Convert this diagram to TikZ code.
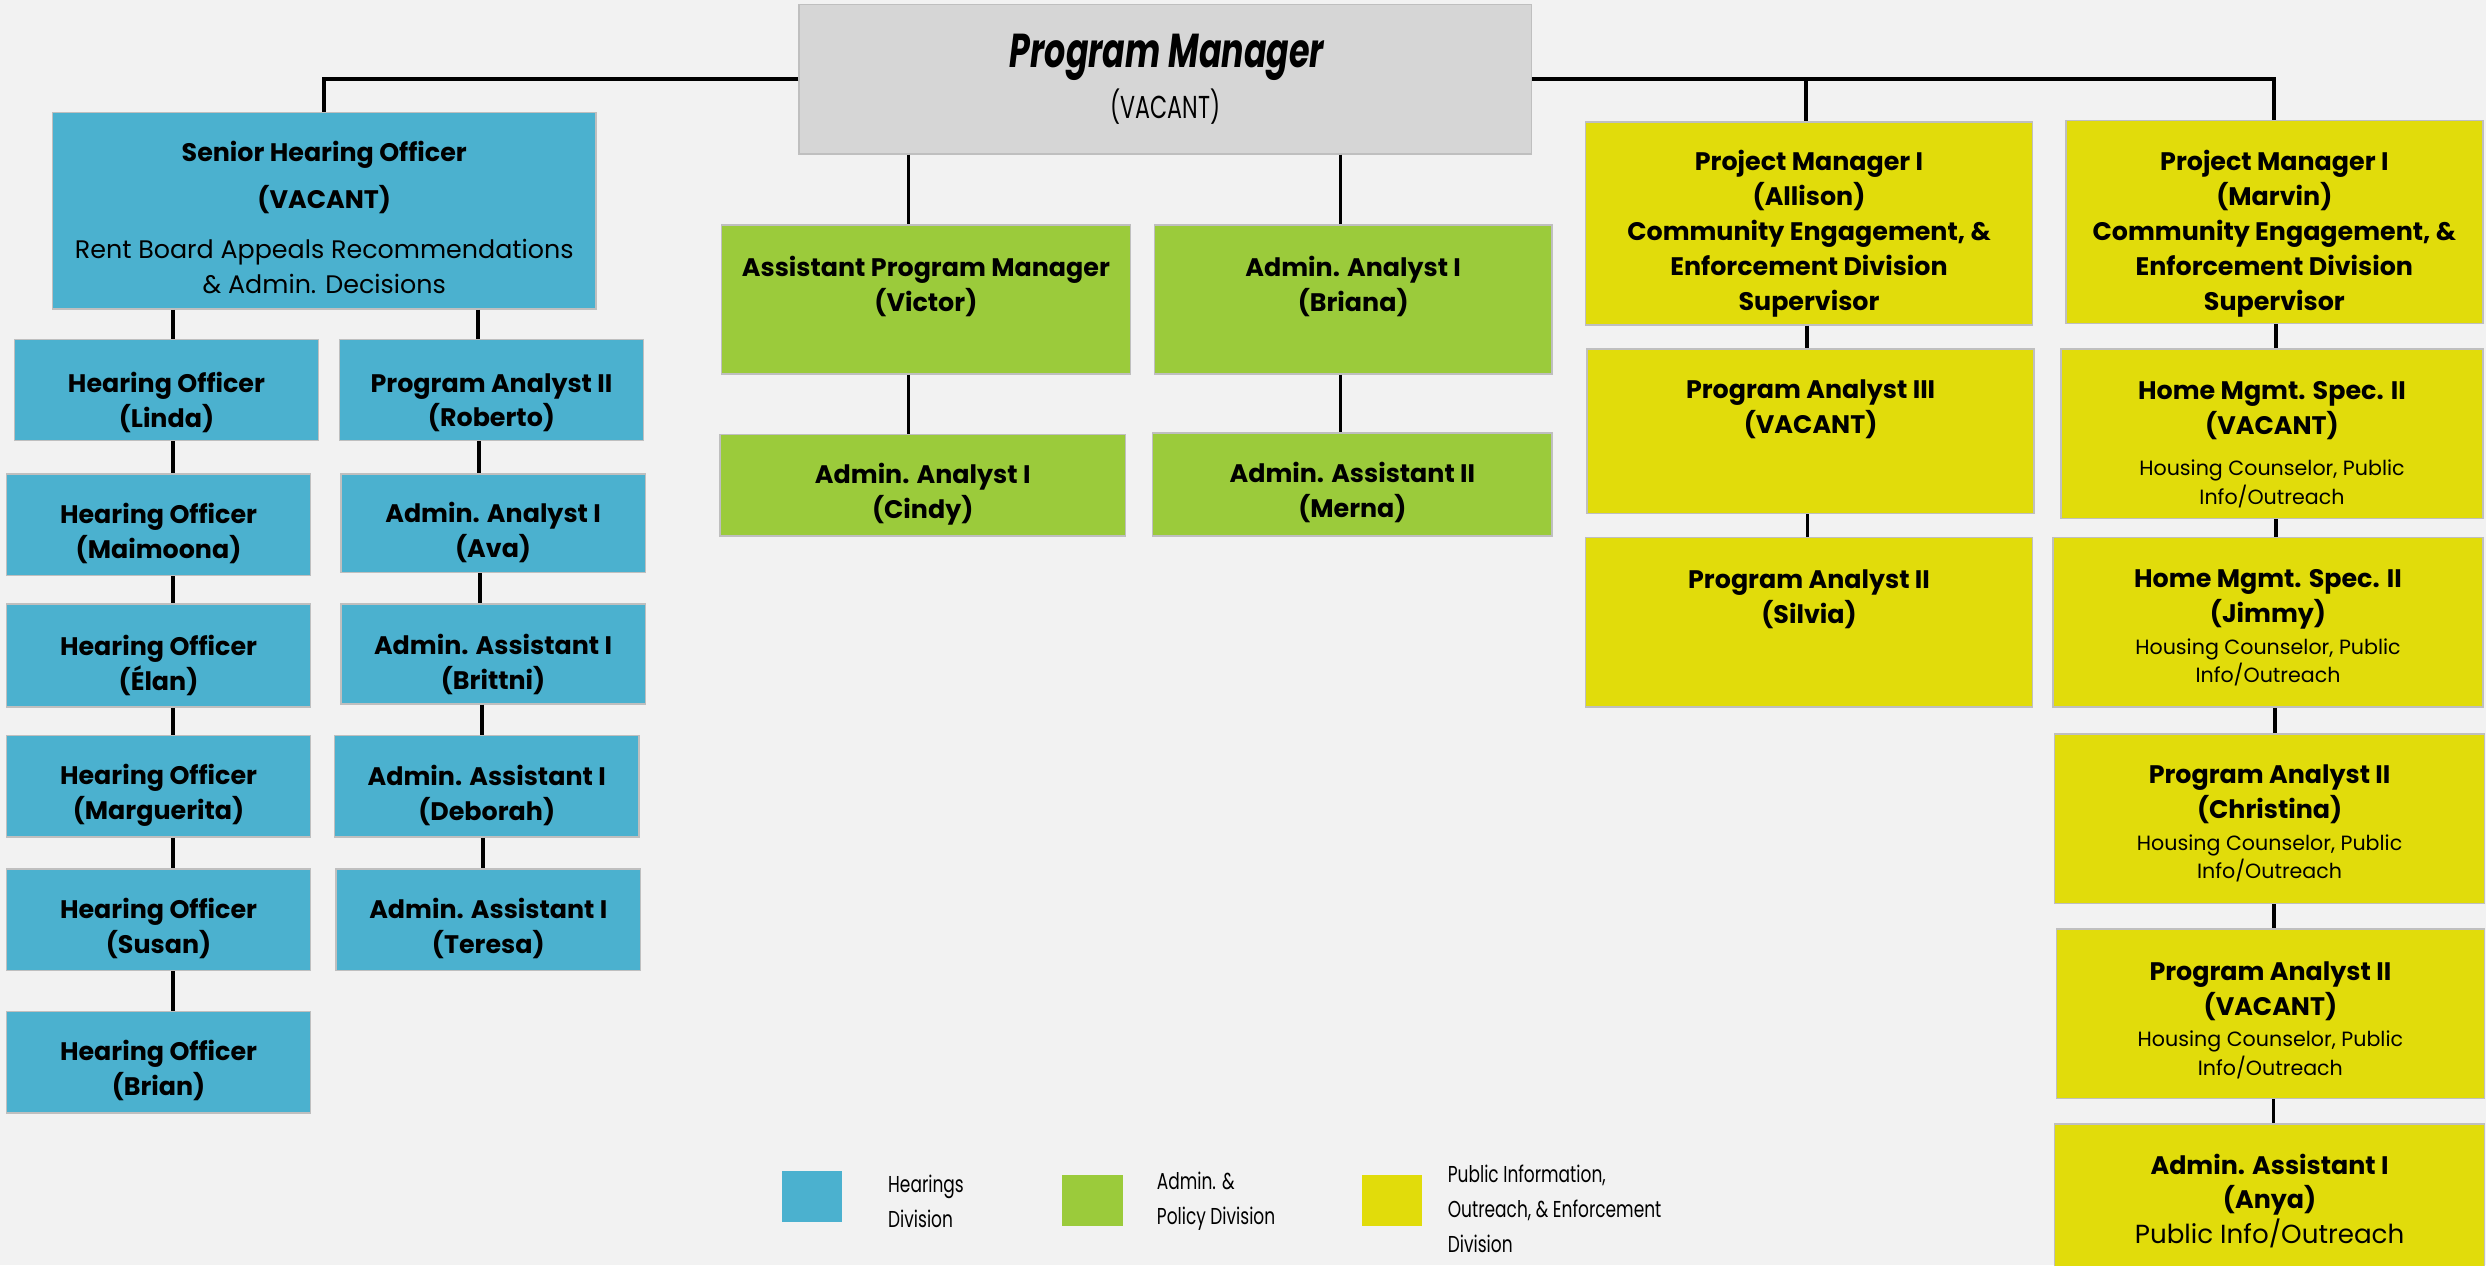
\documentclass[tikz,border=0pt]{standalone}
\usepackage{fontspec}
\setmainfont{Poppins}
\newfontfamily\narrowfont{Poppins}[FakeStretch=0.74]
\newfontfamily\titlefont{Poppins}[FakeStretch=0.7]
\newcommand\dutyfont{\mdseries\fontsize{13}{18}\selectfont}

\definecolor{pagebg}{HTML}{F2F2F2}
\definecolor{boxedge}{HTML}{BFBFBF}
\definecolor{pmgray}{HTML}{D6D6D6}
\definecolor{hearblue}{HTML}{4BB1CF}
\definecolor{admgreen}{HTML}{9BCB3B}
\definecolor{pubyellow}{HTML}{E1DC0B}

\begin{document}
\begin{tikzpicture}
    [x=1pt,y=-1pt,
     orgbox/.style={draw=boxedge,line width=0.9pt,inner sep=0pt},
     hear/.style={orgbox,fill=hearblue},
     adm/.style={orgbox,fill=admgreen},
     pub/.style={orgbox,fill=pubyellow},
     link/.style={line width=2.4pt,black},
     role/.style={align=center,inner sep=0pt,font=\bfseries\fontsize{16}{22}\selectfont},
     keybox/.style={minimum width=38,minimum height=32,inner sep=0pt},
     keytext/.style={align=left,anchor=west,inner sep=0pt,font=\narrowfont\fontsize{14.5}{22}\selectfont}]
    \fill[pagebg] (0,0) rectangle (1568,798);
    \useasboundingbox (0,0) rectangle (1568,798);

    % top
    \node (npm) [orgbox,fill=pmgray,minimum width=462,minimum height=94] at (735,50) {};
    \node (tpm) [inner sep=0pt,font=\titlefont\bfseries\itshape\fontsize{30}{32}\selectfont] at (736,36) {Program Manager};
    \node (tpmsub) [inner sep=0pt,font=\titlefont\fontsize{20}{22}\selectfont] at (735,67) {(VACANT)};

    % hearings division
    \node (nsho) [hear,minimum width=343,minimum height=124] at (204.5,133) {};
    \node (tsho) [role,font=\fontsize{16}{22}\selectfont] at (204.5,137)
      {\textbf{Senior Hearing Officer}\\[8pt]\textbf{(VACANT)}\\[9pt]Rent Board Appeals Recommendations\\\& Admin. Decisions};
    \node (nlinda) [hear,minimum width=192,minimum height=64] at (105,246) {};
    \node (tlinda) [role] at (105,254) {Hearing Officer\\(Linda)};
    \node (nmaimoona) [hear,minimum width=192,minimum height=64] at (100,331) {};
    \node (tmaimoona) [role] at (100,336.5) {Hearing Officer\\(Maimoona)};
    \node (nelan) [hear,minimum width=192,minimum height=65] at (100,413.5) {};
    \node (telan) [role] at (100,419.5) {Hearing Officer\\(Élan)};
    \node (nmarguerita) [hear,minimum width=192,minimum height=64] at (100,496) {};
    \node (tmarguerita) [role] at (100,501.5) {Hearing Officer\\(Marguerita)};
    \node (nsusan) [hear,minimum width=192,minimum height=64] at (100,580) {};
    \node (tsusan) [role] at (100,585.5) {Hearing Officer\\(Susan)};
    \node (nbrian) [hear,minimum width=192,minimum height=64] at (100,670) {};
    \node (tbrian) [role] at (100,675) {Hearing Officer\\(Brian)};

    \node (nroberto) [hear,minimum width=192,minimum height=64] at (310,246) {};
    \node (troberto) [role] at (310,254) {Program Analyst II\\(Roberto)};
    \node (nava) [hear,minimum width=192,minimum height=62] at (311,330) {};
    \node (tava) [role] at (311,336) {Admin. Analyst I\\(Ava)};
    \node (nbrittni) [hear,minimum width=192,minimum height=63] at (311,412.5) {};
    \node (tbrittni) [role] at (311,419) {Admin. Assistant I\\(Brittni)};
    \node (ndeborah) [hear,minimum width=192,minimum height=64] at (307,496) {};
    \node (tdeborah) [role] at (307,501.5) {Admin. Assistant I\\(Deborah)};
    \node (nteresa) [hear,minimum width=192,minimum height=64] at (308,580) {};
    \node (tteresa) [role] at (308,585.5) {Admin. Assistant I\\(Teresa)};

    % admin. & policy division
    \node (nvictor) [adm,minimum width=258,minimum height=94] at (584,189) {};
    \node (tvictor) [role] at (584,180.5) {Assistant Program Manager\\(Victor)};
    \node (ncindy) [adm,minimum width=256,minimum height=64] at (582,306) {};
    \node (tcindy) [role] at (582,311.5) {Admin. Analyst I\\(Cindy)};
    \node (nbriana) [adm,minimum width=251,minimum height=94] at (853.5,189) {};
    \node (tbriana) [role] at (853.5,180.5) {Admin. Analyst I\\(Briana)};
    \node (nmerna) [adm,minimum width=252,minimum height=65] at (853,305.5) {};
    \node (tmerna) [role] at (853,310.5) {Admin. Assistant II\\(Merna)};

    % public information, outreach & enforcement division
    \node (nallison) [pub,minimum width=282,minimum height=128] at (1141,141) {};
    \node (tallison) [role] at (1141,147.5)
      {Project Manager I\\(Allison)\\Community Engagement, \&\\Enforcement Division\\Supervisor};
    \node (npa3) [pub,minimum width=282,minimum height=104] at (1142,272) {};
    \node (tpa3) [role] at (1142,258) {Program Analyst III\\(VACANT)};
    \node (nsilvia) [pub,minimum width=282,minimum height=107] at (1141,392.5) {};
    \node (tsilvia) [role] at (1141,378) {Program Analyst II\\(Silvia)};

    \node (nmarvin) [pub,minimum width=263,minimum height=128] at (1434.5,140) {};
    \node (tmarvin) [role] at (1434.5,147.5)
      {Project Manager I\\(Marvin)\\Community Engagement, \&\\Enforcement Division\\Supervisor};
    \node (nhms) [pub,minimum width=266,minimum height=107] at (1433,273.5) {};
    \node (thms) [role] at (1433,280.5)
      {Home Mgmt. Spec. II\\(VACANT)\\[4pt]{\dutyfont Housing Counselor, Public}\\[-4pt]{\dutyfont Info/Outreach}};
    \node (njimmy) [pub,minimum width=271,minimum height=107] at (1430.5,392.5) {};
    \node (tjimmy) [role] at (1430.5,396)
      {Home Mgmt. Spec. II\\(Jimmy)\\[-2pt]{\dutyfont Housing Counselor, Public}\\[-4pt]{\dutyfont Info/Outreach}};
    \node (nchristina) [pub,minimum width=271,minimum height=107] at (1431.5,516.5) {};
    \node (tchristina) [role] at (1431.5,519.5)
      {Program Analyst II\\(Christina)\\[-2pt]{\dutyfont Housing Counselor, Public}\\[-4pt]{\dutyfont Info/Outreach}};
    \node (npa2) [pub,minimum width=270,minimum height=107] at (1432,639.5) {};
    \node (tpa2) [role] at (1432,643.5)
      {Program Analyst II\\(VACANT)\\[-2pt]{\dutyfont Housing Counselor, Public}\\[-4pt]{\dutyfont Info/Outreach}};
    \node (nanya) [pub,minimum width=271,minimum height=96] at (1431.5,757) {};
    \node (tanya) [role] at (1431.5,757.5)
      {Admin. Assistant I\\(Anya)\\{\mdseries\fontsize{16.5}{22}\selectfont Public Info/Outreach}};

    % connectors
    \draw[link] (npm.west) -| (nsho.north);
    \draw[link] (npm.east) -| (nmarvin.north);
    \draw[link] (npm.east -| 1139,0) -- (nallison.north -| 1139,0);
    \draw[link] (npm.south -| 573,0) -- (nvictor.north -| 573,0);
    \draw[link] (npm.south -| 845.5,0) -- (nbriana.north -| 845.5,0);
    \draw[link] (nvictor.south -| 573,0) -- (ncindy.north -| 573,0);
    \draw[link] (nbriana.south -| 845.5,0) -- (nmerna.north -| 845.5,0);

    \draw[link] (nsho.south -| 109,0) -- (nlinda.north -| 109,0);
    \draw[link] (nlinda.south -| 109,0) -- (nmaimoona.north -| 109,0);
    \draw[link] (nmaimoona.south -| 109,0) -- (nelan.north -| 109,0);
    \draw[link] (nelan.south -| 109,0) -- (nmarguerita.north -| 109,0);
    \draw[link] (nmarguerita.south -| 109,0) -- (nsusan.north -| 109,0);
    \draw[link] (nsusan.south -| 109,0) -- (nbrian.north -| 109,0);

    \draw[link] (nsho.south -| 301.5,0) -- (nroberto.north -| 301.5,0);
    \draw[link] (nroberto.south -| 302,0) -- (nava.north -| 302,0);
    \draw[link] (nava.south -| 303,0) -- (nbrittni.north -| 303,0);
    \draw[link] (nbrittni.south -| 304,0) -- (ndeborah.north -| 304,0);
    \draw[link] (ndeborah.south -| 304.5,0) -- (nteresa.north -| 304.5,0);

    \draw[link] (nallison.south -| 1139.5,0) -- (npa3.north -| 1139.5,0);
    \draw[link] (npa3.south -| 1140,0) -- (nsilvia.north -| 1140,0);

    \draw[link] (nmarvin.south -| 1435.5,0) -- (nhms.north -| 1435.5,0);
    \draw[link] (nhms.south -| 1435.5,0) -- (njimmy.north -| 1435.5,0);
    \draw[link] (njimmy.south -| 1435,0) -- (nchristina.north -| 1435,0);
    \draw[link] (nchristina.south -| 1434.5,0) -- (npa2.north -| 1434.5,0);
    \draw[link] (npa2.south -| 1434,0) -- (nanya.north -| 1434,0);

    % legend
    \node (khear) [keybox,fill=hearblue] at (512,754.5) {};
    \node (tkhear) [keytext] at (560,757.5) {Hearings\\Division};
    \node (kadm) [keybox,fill=admgreen] at (689,757) {};
    \node (tkadm) [keytext] at (729.5,757.5) {Admin. \&\\Policy Division};
    \node (kpub) [keybox,fill=pubyellow] at (878,757) {};
    \node (tkpub) [keytext] at (913,762.5) {Public Information,\\Outreach, \& Enforcement\\Division};
\end{tikzpicture}
\end{document}
